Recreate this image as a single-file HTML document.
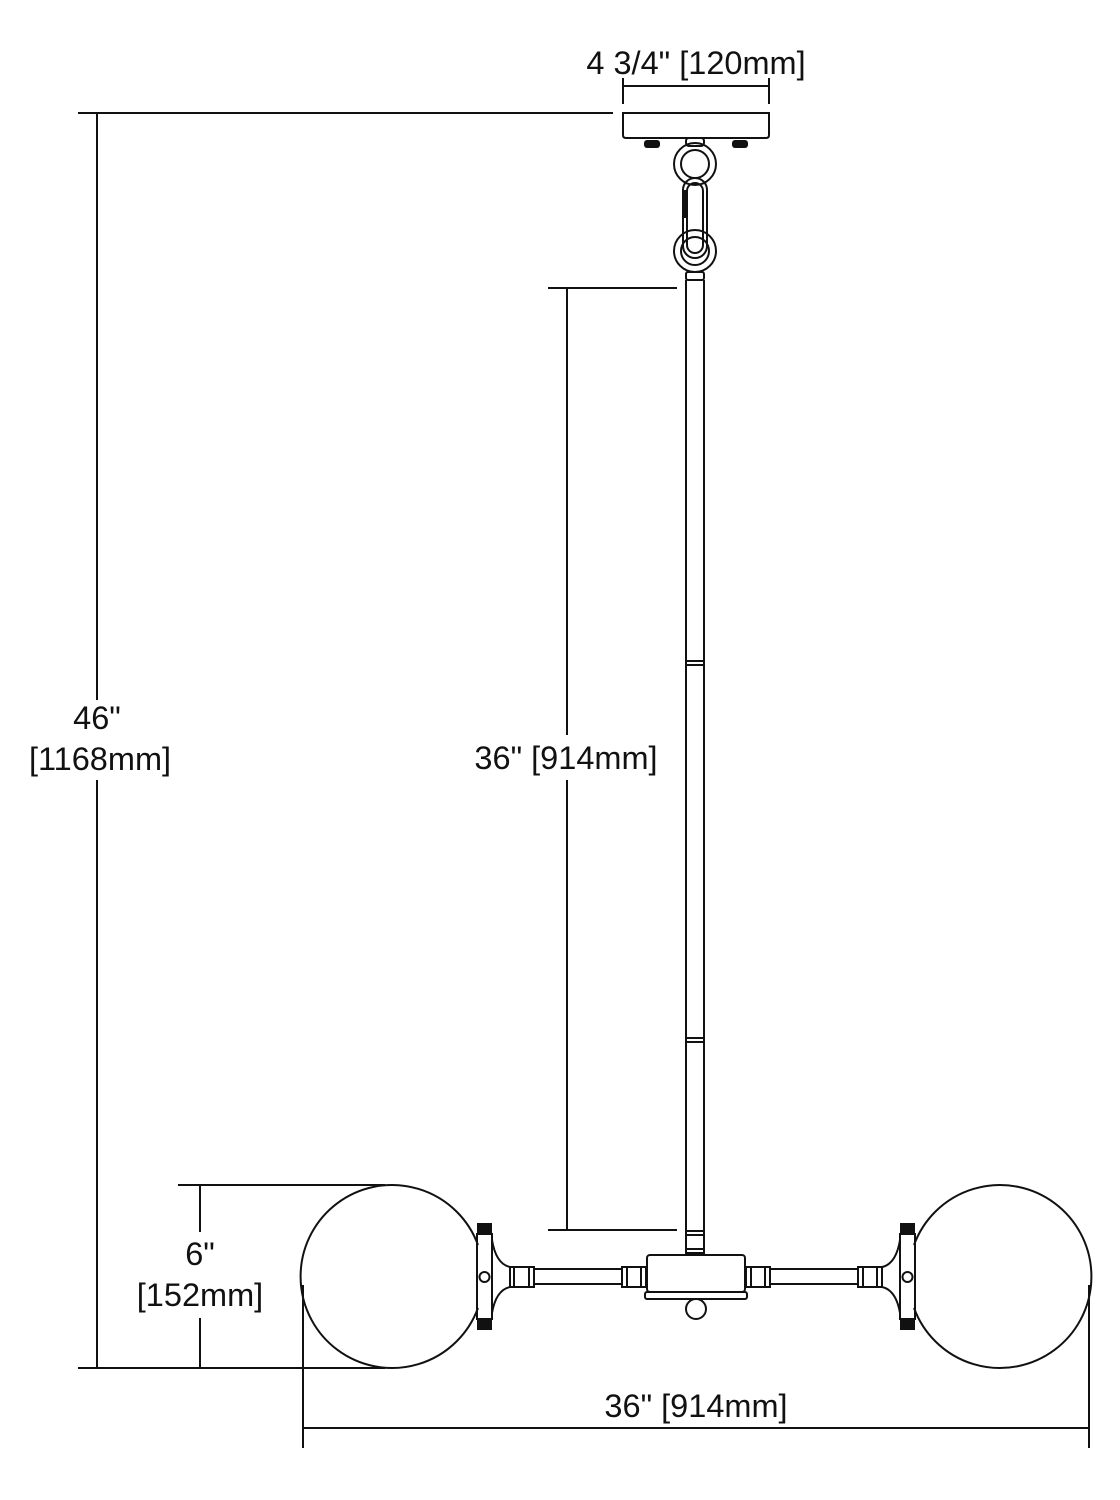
<!DOCTYPE html>
<html><head><meta charset="utf-8"><style>
html,body{margin:0;padding:0;background:#fff}
svg{display:block}
text{font-family:"Liberation Sans",sans-serif;font-size:32.5px;fill:#111}
</style></head><body>
<svg width="1120" height="1500" viewBox="0 0 1120 1500" xmlns="http://www.w3.org/2000/svg">
<g stroke="#111" stroke-width="2" fill="none">
<line x1="623" y1="86" x2="769" y2="86"/>
<line x1="623" y1="78" x2="623" y2="104"/>
<line x1="769" y1="78" x2="769" y2="104"/>
<path d="M623 113 H769 V135 Q769 138 766 138 H626 Q623 138 623 135 Z"/>
<line x1="78" y1="113" x2="613" y2="113"/>
<line x1="78" y1="1368" x2="385" y2="1368"/>
<line x1="97" y1="113" x2="97" y2="700"/>
<line x1="97" y1="780" x2="97" y2="1368"/>
<line x1="548" y1="288" x2="677" y2="288"/>
<line x1="548" y1="1230" x2="677" y2="1230"/>
<line x1="567" y1="288" x2="567" y2="735"/>
<line x1="567" y1="780" x2="567" y2="1230"/>
<line x1="178" y1="1185" x2="385" y2="1185"/>
<line x1="200" y1="1185" x2="200" y2="1232"/>
<line x1="200" y1="1318" x2="200" y2="1368"/>
<line x1="303" y1="1285" x2="303" y2="1448"/>
<line x1="1089" y1="1285" x2="1089" y2="1448"/>
<line x1="303" y1="1428" x2="1089" y2="1428"/>
<rect x="686" y="138" width="18" height="8" rx="3"/>
<circle cx="695" cy="164" r="21"/>
<circle cx="695" cy="164" r="14"/>
<rect x="683" y="178" width="24" height="80" rx="12"/>
<rect x="687" y="183" width="16" height="70" rx="8"/>
<circle cx="695" cy="251" r="21"/>
<circle cx="695" cy="251" r="14"/>
<rect x="686" y="272" width="18" height="8" rx="2"/>
<path d="M686 280 V1255 M704 280 V1255"/>
<line x1="686" y1="661" x2="704" y2="661"/><line x1="686" y1="665" x2="704" y2="665"/>
<line x1="686" y1="1038" x2="704" y2="1038"/><line x1="686" y1="1042" x2="704" y2="1042"/>
<line x1="686" y1="1231" x2="704" y2="1231"/><line x1="686" y1="1235" x2="704" y2="1235"/>
<line x1="686" y1="1249" x2="704" y2="1249"/><line x1="686" y1="1253" x2="704" y2="1253"/>
<path d="M478 1245 A91.5 91.5 0 1 0 478 1308"/>
<path d="M914 1245 A91.5 91.5 0 1 1 914 1308"/>
<rect x="647" y="1255" width="98" height="37" rx="3"/>
<rect x="645" y="1292" width="102" height="7" rx="2"/>
<circle cx="696" cy="1309" r="10"/>
<rect x="534" y="1269" width="88" height="15"/>
<rect x="770" y="1269" width="88" height="15"/>
<rect x="510" y="1267" width="24" height="20"/><line x1="514" y1="1267" x2="514" y2="1287"/><line x1="529" y1="1267" x2="529" y2="1287"/>
<rect x="622" y="1267" width="24" height="20"/><line x1="627" y1="1267" x2="627" y2="1287"/><line x1="641" y1="1267" x2="641" y2="1287"/>
<rect x="746" y="1267" width="24" height="20"/><line x1="751" y1="1267" x2="751" y2="1287"/><line x1="765" y1="1267" x2="765" y2="1287"/>
<rect x="858" y="1267" width="24" height="20"/><line x1="863" y1="1267" x2="863" y2="1287"/><line x1="877" y1="1267" x2="877" y2="1287"/>
<rect x="477" y="1234" width="15" height="85"/>
<rect x="900" y="1234" width="15" height="85"/>
<circle cx="484.5" cy="1277" r="5"/>
<circle cx="907.5" cy="1277" r="5"/>
<path d="M492 1240 Q496 1264 510 1267 M492 1313 Q496 1290 510 1287"/>
<path d="M900 1240 Q896 1264 882 1267 M900 1313 Q896 1290 882 1287"/>
</g>
<g fill="#111">
<rect x="644" y="140" width="16" height="8" rx="3"/>
<rect x="732" y="140" width="16" height="8" rx="3"/>
<rect x="682" y="190" width="6" height="28"/>
<rect x="477" y="1223" width="15" height="11"/>
<rect x="477" y="1319" width="15" height="11"/>
<rect x="900" y="1223" width="15" height="11"/>
<rect x="900" y="1319" width="15" height="11"/>
</g>
<text x="696" y="74" text-anchor="middle">4 3/4" [120mm]</text>
<text x="97" y="729" text-anchor="middle">46"</text>
<text x="100" y="770" text-anchor="middle">[1168mm]</text>
<text x="566" y="769" text-anchor="middle">36" [914mm]</text>
<text x="200" y="1265" text-anchor="middle">6"</text>
<text x="200" y="1306" text-anchor="middle">[152mm]</text>
<text x="696" y="1417" text-anchor="middle">36" [914mm]</text>
</svg>
</body></html>
